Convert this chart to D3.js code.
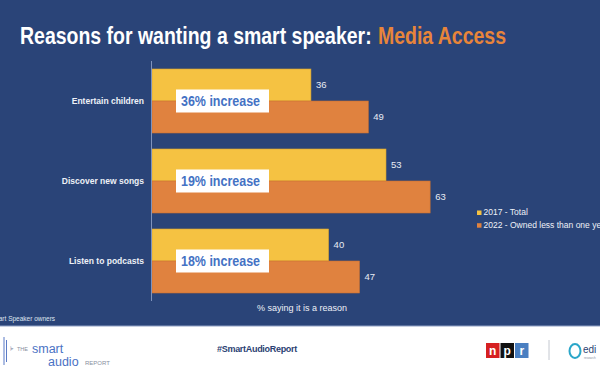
<!DOCTYPE html>
<html lang="en">
<head>
<meta charset="utf-8">
<script src="https://d3js.org/d3.v7.min.js"></script>
<style>
  body { margin: 0; background: #fff; }
  svg { display: block; font-family: "Liberation Sans", Arial, sans-serif; }
</style>
</head>
<body>
<script>
// chart data
var categories = ["Entertain children", "Discover new songs", "Listen to podcasts"];
var series2017 = [36, 53, 40];
var series2022 = [49, 63, 47];
var increases = ["36% increase", "19% increase", "18% increase"];
var seriesNames = ["2017 - Total", "2022 - Owned less than one year"];

var colour = { bg: "#2a4478", yellow: "#f5c242", orange: "#e0823f", blue: "#4472c4", accent: "#e8853a" };

var width = 600, height = 372;

var svg = d3.select("body").append("svg")
    .attr("width", width)
    .attr("height", height);

// the background
svg.append("rect").attr("width", width).attr("height", 326).attr("fill", colour.bg);
svg.append("rect").attr("y", 326).attr("width", width).attr("height", 46).attr("fill", "#ffffff");
svg.append("line").attr("x1", 0).attr("x2", width).attr("y1", 326).attr("y2", 326)
   .attr("stroke", "#8fa0c4").attr("stroke-width", 1);

// squeeze a text horizontally to a given width (the original uses a narrow face)
function squeeze(sel, x0, y0, w) {
    var len = sel.node().getComputedTextLength();
    sel.attr("transform", "translate(" + x0 + "," + y0 + ") scale(" + (w / len) + ",1)");
}

// title
var t1 = svg.append("text")
    .attr("font-size", 23).attr("font-weight", "bold")
    .attr("fill", "#fff")
    .text("Reasons for wanting a smart speaker:");
squeeze(t1, 20, 44, 352);
var t2 = svg.append("text")
    .attr("font-size", 23).attr("font-weight", "bold")
    .attr("fill", colour.accent)
    .text("Media Access");
squeeze(t2, 378, 44, 128);

// scales
var x = d3.scaleLinear().domain([0, 100]).range([152, 152 + 441.5]);
var y = d3.scaleBand().domain(categories).range([61, 301]).paddingInner(0.2).paddingOuter(0.1);
var sub = d3.scaleBand().domain([0, 1]).range([0, y.bandwidth()]);

var rows = categories.map(function(c, i) {
    return { cat: c, vals: [series2017[i], series2022[i]], inc: increases[i] };
});

var g = svg.append("g");

var grp = g.selectAll(".grp").data(rows).enter().append("g")
    .attr("transform", function(d) { return "translate(0," + y(d.cat) + ")"; });

grp.selectAll("rect.bar").data(function(d) { return d.vals; }).enter().append("rect")
    .attr("class", "bar")
    .attr("x", x(0))
    .attr("y", function(d, i) { return sub(i); })
    .attr("width", function(d) { return x(d) - x(0); })
    .attr("height", sub.bandwidth())
    .attr("fill", function(d, i) { return i === 0 ? colour.yellow : colour.orange; })
    .attr("stroke", function(d, i) { return i === 0 ? "#d9a52e" : "#c96f30"; })
    .attr("stroke-width", 0.6);

grp.selectAll("text.val").data(function(d) { return d.vals; }).enter().append("text")
    .attr("class", "val")
    .attr("x", function(d) { return x(d) + 5; })
    .attr("y", function(d, i) { return sub(i) + sub.bandwidth() / 2; })
    .attr("dy", "0.35em")
    .attr("font-size", 9.5)
    .attr("fill", "#e8ecf4")
    .text(function(d) { return d; });

// category labels
grp.append("text")
    .attr("x", 144)
    .attr("y", y.bandwidth() / 2)
    .attr("dy", "0.35em")
    .attr("text-anchor", "end")
    .attr("font-size", 8.5)
    .attr("font-weight", "bold")
    .attr("fill", "#eef1f7")
    .text(function(d) { return d.cat; });

// increase callouts
grp.append("rect")
    .attr("x", 176).attr("y", y.bandwidth() / 2 - 11.5)
    .attr("width", 93).attr("height", 23)
    .attr("fill", "#fff");
grp.append("text")
    .attr("x", 181).attr("y", y.bandwidth() / 2 + 0.5)
    .attr("dy", "0.35em")
    .attr("font-size", 14).attr("font-weight", "bold")
    .attr("fill", colour.blue)
    .attr("textLength", 79).attr("lengthAdjust", "spacingAndGlyphs")
    .text(function(d) { return d.inc; });

// axis line
svg.append("line")
    .attr("x1", x(0) - 0.5).attr("x2", x(0) - 0.5)
    .attr("y1", 61).attr("y2", 301)
    .attr("stroke", "#7f93bd").attr("stroke-width", 1);

// axis title
svg.append("text")
    .attr("x", 302).attr("y", 311)
    .attr("text-anchor", "middle")
    .attr("font-size", 9)
    .attr("fill", "#eef1f7")
    .text("% saying it is a reason");

// legend
var lg = svg.append("g").selectAll("g").data(seriesNames).enter().append("g")
    .attr("transform", function(d, i) { return "translate(477," + (212.5 + i * 12.7) + ")"; });
lg.append("rect").attr("x", 0).attr("y", -2).attr("width", 4.5).attr("height", 4.5)
    .attr("fill", function(d, i) { return i === 0 ? colour.yellow : colour.orange; });
lg.append("text").attr("x", 6.5).attr("y", 0).attr("dy", "0.35em")
    .attr("font-size", 8.5).attr("fill", "#eef1f7")
    .text(function(d) { return d; });

// footnote
svg.append("text")
    .attr("x", -11).attr("y", 321)
    .attr("font-size", 6.5).attr("fill", "#dfe4ef")
    .text("Smart Speaker owners");

// footer: report logo
var logo = svg.append("g");
[[4, 337, 365], [6.5, 340, 362]].forEach(function(l) {
    logo.append("line").attr("x1", l[0]).attr("x2", l[0]).attr("y1", l[1]).attr("y2", l[2])
        .attr("stroke", "#5b7bc6").attr("stroke-width", 1);
});
logo.append("text").attr("x", 10).attr("y", 350).attr("font-size", 5).attr("fill", "#9aa3b5").text("|▸");
logo.append("text").attr("x", 17).attr("y", 351).attr("font-size", 5.5).attr("fill", "#8890a0").text("THE");
logo.append("text").attr("x", 32).attr("y", 353).attr("font-size", 12.5).attr("fill", "#4a72c4").text("smart");
logo.append("text").attr("x", 48).attr("y", 366).attr("font-size", 12.5).attr("fill", "#4a72c4").text("audio");
logo.append("text").attr("x", 85).attr("y", 365).attr("font-size", 6).attr("fill", "#8890a0").text("REPORT");

// hashtag
svg.append("text")
    .attr("x", 257).attr("y", 352)
    .attr("text-anchor", "middle")
    .attr("font-size", 9).attr("font-weight", "bold")
    .attr("letter-spacing", -0.3)
    .attr("fill", "#2b3f73")
    .text("#SmartAudioReport");

// npr logo
var npr = svg.append("g");
[["n", "#d62021"], ["p", "#111111"], ["r", "#4a7fc1"]].forEach(function(b, i) {
    npr.append("rect").attr("x", 486 + i * 14.5).attr("y", 343).attr("width", 13.5).attr("height", 15).attr("fill", b[1]);
    npr.append("text").attr("x", 486 + i * 14.5 + 6.75).attr("y", 354.5).attr("text-anchor", "middle")
        .attr("font-size", 12).attr("font-weight", "bold").attr("fill", "#fff").text(b[0]);
});
svg.append("line").attr("x1", 549).attr("x2", 549).attr("y1", 340).attr("y2", 360)
    .attr("stroke", "#c4c8d0").attr("stroke-width", 1);

// edison logo
svg.append("ellipse").attr("cx", 575).attr("cy", 351).attr("rx", 5.5).attr("ry", 7)
    .attr("fill", "none").attr("stroke", "#2aa6c9").attr("stroke-width", 2);
svg.append("text").attr("x", 583).attr("y", 353).attr("font-size", 10).attr("fill", "#2b3f73").text("edi");
svg.append("text").attr("x", 584).attr("y", 359).attr("font-size", 3).attr("fill", "#8890a0").text("research");
</script>
</body>
</html>
